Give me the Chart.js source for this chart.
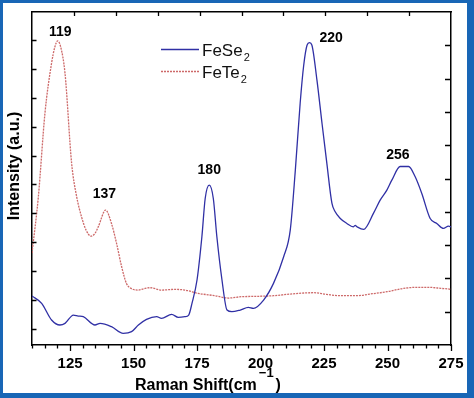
<!DOCTYPE html>
<html>
<head>
<meta charset="utf-8">
<script src="https://cdn.jsdelivr.net/npm/chart.js@4.4.0/dist/chart.umd.min.js"></script>
<style>
html, body { margin: 0; padding: 0; background: #fff; }
canvas { display: block; }
</style>
</head>
<body>
<canvas id="ramanChart" width="474" height="398"></canvas>
<script>
// FeSe2 spectrum (Raman shift cm-1 / intensity a.u.)
const feSe2Shift = [110, 113.8, 117.7, 121, 123, 126.3, 128.2, 130.2, 134.8, 136.8, 141.3, 145.9, 149.2, 151.9, 155.1,
    159.1, 161, 165, 167.6, 170.2, 171.7, 173, 175, 176.9, 178.2, 179.8, 181.4, 182.8, 184.8, 186.8, 188.7, 192,
    195.2, 197.2, 201.2, 205.1, 209.1, 211.7, 213.7, 215.6, 217, 218.3, 219.3, 220.2, 222.2, 224.2, 226.1, 228.1,
    229.4, 231.4, 234, 236.5, 237.3, 238, 240.6, 244.5, 247.1, 249.8, 251.7, 255, 258.3, 260.9, 263.5, 266.8,
    269.4, 272, 274, 275];
const feSe2Intensity = [14.7, 12.5, 7.5, 6.0, 6.5, 9.0, 8.7, 8.5, 6.0, 6.5, 5.5, 3.5, 4.0, 6.0, 7.7,
    8.5, 8.0, 9.2, 8.3, 8.5, 9.0, 12.5, 19.6, 32.5, 44, 48, 44, 32.5, 19.6, 10.5, 10.0, 10.5,
    11.3, 11.0, 13.5, 18.5, 26.5, 34.5, 52.5, 72.6, 84, 90, 90.8, 90.1, 79.6, 66.6, 54.6, 42.6,
    40, 38, 36.5, 35.5, 35.9, 35.5, 34.7, 39.6, 43.5, 46.6, 49.5, 53.6, 53.6, 50.5, 45.5, 38.0,
    36.5, 35.0, 35.7, 35.5];

// FeTe2 spectrum
const feTe2Shift = [110, 112.5, 115.1, 117.7, 119, 120.1, 121.3, 123, 125.6, 127.6, 129.5, 131.3, 133.2, 134.8,
    136.1, 139, 141.3, 143.3, 145.3, 147.2, 149.5, 151.8, 154, 156.5, 161, 166.3, 170.2, 175.5, 182, 187.3,
    192.4, 198, 205.1, 211.7, 220.9, 226, 231.4, 237.9, 244, 249.8, 256.3, 261, 266.8, 271, 274.7, 275];
const feTe2Intensity = [27.6, 44.5, 69.6, 84.6, 89.5, 91.3, 89.5, 81.6, 54.6, 44.5, 38.5, 34.5, 32.7, 33.5,
    35.5, 40.5, 36.5, 30.5, 23.5, 18.5, 16.8, 16.5, 16.9, 17.2, 16.5, 16.7, 16.5, 15.5, 14.8, 14.1,
    14.5, 14.6, 14.8, 15.3, 15.7, 15.2, 14.8, 14.8, 15.4, 16.0, 17.0, 17.3, 17.3, 17.0, 16.7, 16.6];

const peakNames = ['119', '137', '180', '220', '256'];
const xMin = 110;
const xMax = 275;

function toPoints(xs, ys) {
    return xs.map(function (v, i) { return { x: v, y: ys[i] }; });
}

// where the peak numbers sit, in axis units
const peakNotePos = [[121.1, 94.0], [138.5, 45.2], [179.8, 52.6], [227.8, 92.2], [254.1, 56.9]];
const leftTickValues = [4.8, 13.5, 22.2, 30.8, 39.5, 48.2, 56.9, 65.6, 74.2, 82.9, 91.6];

const seColor = 'rgb(48, 48, 165)';
const teColor = 'rgb(205, 105, 105)';
const fontFam = '"Liberation Sans", Arial, sans-serif';

const decorPlugin = {
    id: 'decor',
    beforeDraw(chart) {
        const ctx = chart.ctx;
        ctx.save();
        ctx.fillStyle = '#fff';
        ctx.fillRect(0, 0, chart.width, chart.height);
        ctx.restore();
    },
    afterDraw(chart) {
        const ctx = chart.ctx;
        const area = chart.chartArea;
        const sx = chart.scales.x, sy = chart.scales.y;
        const sx2 = chart.scales.x2, sy2 = chart.scales.y2;
        ctx.save();
        ctx.strokeStyle = '#000';
        ctx.lineWidth = 1.3;
        ctx.beginPath();
        // bottom: outward, long at labelled ticks
        sx.ticks.forEach(function (t) {
            const px = Math.round(sx.getPixelForValue(t.value)) + 0.5;
            const len = t.value % 25 === 0 ? 6 : 3.5;
            ctx.moveTo(px, area.bottom);
            ctx.lineTo(px, area.bottom + len);
        });
        // top: inward
        sx2.ticks.forEach(function (t) {
            if (t.value <= 0 || t.value >= 10) return;
            const px = Math.round(sx2.getPixelForValue(t.value)) + 0.5;
            ctx.moveTo(px, area.top);
            ctx.lineTo(px, area.top + 4);
        });
        // left: inward
        sy.ticks.forEach(function (t) {
            const py = Math.round(sy.getPixelForValue(t.value)) + 0.5;
            ctx.moveTo(area.left, py);
            ctx.lineTo(area.left + 4.5, py);
        });
        // right: inward
        sy2.ticks.forEach(function (t) {
            if (t.value <= 0 || t.value >= 10) return;
            const py = Math.round(sy2.getPixelForValue(t.value)) + 0.5;
            ctx.moveTo(area.right, py);
            ctx.lineTo(area.right - 6, py);
        });
        ctx.stroke();

        // peak numbers
        ctx.fillStyle = '#000';
        ctx.font = 'bold 14px ' + fontFam;
        ctx.textAlign = 'center';
        ctx.textBaseline = 'middle';
        peakNames.forEach(function (txt, i) {
            ctx.fillText(txt, sx.getPixelForValue(peakNotePos[i][0]), sy.getPixelForValue(peakNotePos[i][1]));
        });

        // legend
        const legendItems = [['FeSe', seColor, []], ['FeTe', teColor, [2, 1]]];
        legendItems.forEach(function (item, i) {
            const ly = 49.5 + i * 22;
            ctx.strokeStyle = item[1];
            ctx.lineWidth = 1.3;
            ctx.setLineDash(item[2]);
            ctx.beginPath();
            ctx.moveTo(161, ly);
            ctx.lineTo(199, ly);
            ctx.stroke();
            ctx.setLineDash([]);
            ctx.fillStyle = '#111';
            ctx.textAlign = 'left';
            ctx.textBaseline = 'alphabetic';
            ctx.font = '17px ' + fontFam;
            ctx.fillText(item[0], 202, ly + 6);
            const w = ctx.measureText(item[0]).width;
            ctx.font = '11px ' + fontFam;
            ctx.fillText('2', 202 + w + 1, ly + 11);
        });

        // axis titles
        ctx.fillStyle = '#000';
        ctx.font = 'bold 16px ' + fontFam;
        ctx.textAlign = 'left';
        ctx.textBaseline = 'alphabetic';
        const xt = 'Raman Shift(cm';
        ctx.fillText(xt, 135, 390);
        let tx = 135 + ctx.measureText(xt).width;
        ctx.font = 'bold 13px ' + fontFam;
        ctx.fillText('\u22121', tx + 2, 377);
        tx += 2 + ctx.measureText('\u22121').width;
        ctx.font = 'bold 16px ' + fontFam;
        ctx.fillText(')', tx + 2, 390);

        ctx.save();
        ctx.translate(15, 166);
        ctx.rotate(-Math.PI / 2);
        ctx.textAlign = 'center';
        ctx.textBaseline = 'middle';
        ctx.fillText('Intensity (a.u.)', 0, 0);
        ctx.restore();

        // blue frame
        ctx.fillStyle = 'rgb(24, 102, 182)';
        ctx.fillRect(0, 0, chart.width, 3);
        ctx.fillRect(0, 0, 3, chart.height);
        ctx.fillRect(chart.width - 7, 0, 7, chart.height);
        ctx.fillRect(0, chart.height - 5, chart.width, 5);
        ctx.restore();
    }
};

const ctx = document.getElementById('ramanChart');
const ramanChart = new Chart(ctx, {
    type: 'line',
    data: {
        datasets: [{
            label: 'FeSe2',
            data: toPoints(feSe2Shift, feSe2Intensity),
            borderColor: seColor,
            borderWidth: 1.3,
            pointRadius: 0,
            cubicInterpolationMode: 'monotone',
            fill: false
        }, {
            label: 'FeTe2',
            data: toPoints(feTe2Shift, feTe2Intensity),
            borderColor: teColor,
            borderWidth: 1.3,
            borderDash: [2, 1],
            pointRadius: 0,
            cubicInterpolationMode: 'monotone',
            fill: false
        }]
    },
    options: {
        responsive: false,
        animation: false,
        layout: { padding: 0 },
        plugins: {
            legend: { display: false },
            tooltip: { enabled: false }
        },
        scales: {
            x: {
                type: 'linear',
                position: 'bottom',
                min: xMin,
                max: xMax,
                grid: { display: false, drawTicks: false },
                border: { display: true, color: '#000', width: 1.5 },
                ticks: {
                    stepSize: 5,
                    autoSkip: false,
                    maxRotation: 0,
                    padding: 10,
                    color: '#000',
                    font: { family: fontFam, size: 15, weight: 'bold' },
                    callback: function (value) {
                        return value % 25 === 0 ? value : '';
                    }
                },
                afterFit: function (scale) { scale.height = 53; }
            },
            x2: {
                type: 'linear',
                position: 'top',
                min: 0,
                max: 10,
                grid: { display: false, drawTicks: false },
                border: { display: true, color: '#000', width: 1.5 },
                ticks: { display: false, stepSize: 1 },
                afterFit: function (scale) { scale.height = 12; }
            },
            y: {
                type: 'linear',
                position: 'left',
                min: 0,
                max: 100,
                grid: { display: false, drawTicks: false },
                border: { display: true, color: '#000', width: 1.5 },
                ticks: { display: false },
                afterBuildTicks: function (axis) {
                    axis.ticks = leftTickValues.map(function (v) { return { value: v }; });
                },
                afterFit: function (scale) { scale.width = 32; }
            },
            y2: {
                type: 'linear',
                position: 'right',
                min: 0,
                max: 10,
                grid: { display: false, drawTicks: false },
                border: { display: true, color: '#000', width: 1.5 },
                ticks: { display: false, stepSize: 1 },
                afterFit: function (scale) { scale.width = 23; }
            }
        }
    },
    plugins: [decorPlugin]
});
</script>
</body>
</html>
